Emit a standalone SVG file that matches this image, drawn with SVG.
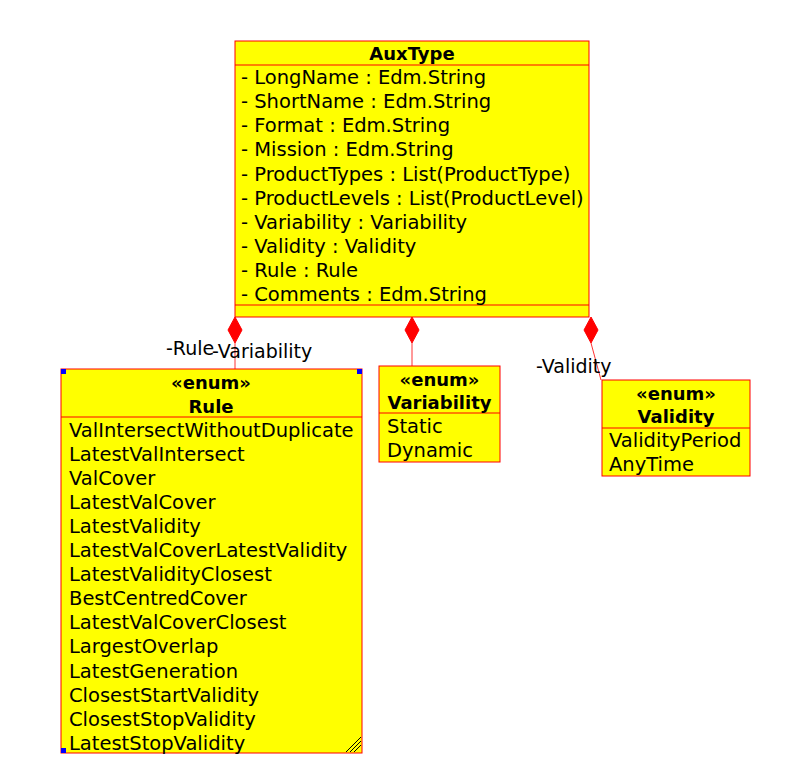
<svg xmlns="http://www.w3.org/2000/svg" width="801" height="777" viewBox="0 0 801 777">
<style>
.box{fill:#ffff00;stroke:#ff0000;stroke-width:1}
.sep{stroke:#ff0000;stroke-width:1}
.t{font-family:"DejaVu Sans",sans-serif;font-size:19.5px;fill:#000}
.b{font-weight:bold;text-anchor:middle;font-size:18px}
.conn{stroke:#ff3333;stroke-width:1;fill:none}
.dia{fill:#ff0000;stroke:#ff0000}
.lbl{font-family:"DejaVu Sans",sans-serif;font-size:19px;fill:#000}
.h{fill:#0000ff}
</style>
<rect width="801" height="777" fill="#fff"/>
<g id="connectors">
<path class="conn" d="M235,343 V369"/>
<path class="conn" d="M412,343 V366"/>
<path class="conn" d="M591,343 L601,380"/>
<path class="dia" d="M235,317 L242,330 L235,343 L228,330 Z"/>
<path class="dia" d="M412,317 L419,330 L412,343 L405,330 Z"/>
<path class="dia" d="M591,317 L598,330 L591,343 L584,330 Z"/>
<text class="lbl" x="166" y="355">-Rule</text>
<text class="lbl" x="212" y="358">-Variability</text>
<text class="lbl" x="536" y="373">-Validity</text>
</g>
<g id="AuxType">
<rect class="box" x="235" y="41" width="354" height="276"/>
<line class="sep" x1="235" y1="65" x2="589" y2="65"/>
<line class="sep" x1="235" y1="305" x2="589" y2="305"/>
<text class="t b" x="412" y="60">AuxType</text>
<text class="t" x="241" y="84">- LongName : Edm.String</text>
<text class="t" x="241" y="108">- ShortName : Edm.String</text>
<text class="t" x="241" y="132">- Format : Edm.String</text>
<text class="t" x="241" y="156">- Mission : Edm.String</text>
<text class="t" x="241" y="181">- ProductTypes : List(ProductType)</text>
<text class="t" x="241" y="205">- ProductLevels : List(ProductLevel)</text>
<text class="t" x="241" y="229">- Variability : Variability</text>
<text class="t" x="241" y="253">- Validity : Validity</text>
<text class="t" x="241" y="277">- Rule : Rule</text>
<text class="t" x="241" y="301">- Comments : Edm.String</text>
</g>
<g id="Rule">
<rect class="box" x="61" y="369" width="301" height="384"/>
<line class="sep" x1="61" y1="417" x2="362" y2="417"/>
<text class="t b" x="211" y="389">«enum»</text>
<text class="t b" x="211" y="413">Rule</text>
<text class="t" x="69" y="437">ValIntersectWithoutDuplicate</text>
<text class="t" x="69" y="461">LatestValIntersect</text>
<text class="t" x="69" y="485">ValCover</text>
<text class="t" x="69" y="509">LatestValCover</text>
<text class="t" x="69" y="533">LatestValidity</text>
<text class="t" x="69" y="557">LatestValCoverLatestValidity</text>
<text class="t" x="69" y="581">LatestValidityClosest</text>
<text class="t" x="69" y="605">BestCentredCover</text>
<text class="t" x="69" y="629">LatestValCoverClosest</text>
<text class="t" x="69" y="653">LargestOverlap</text>
<text class="t" x="69" y="678">LatestGeneration</text>
<text class="t" x="69" y="702">ClosestStartValidity</text>
<text class="t" x="69" y="726">ClosestStopValidity</text>
<text class="t" x="69" y="750">LatestStopValidity</text>
<rect class="h" x="61" y="369" width="5" height="5"/>
<rect class="h" x="357" y="369" width="5" height="5"/>
<rect class="h" x="61" y="748" width="5" height="5"/>
<path d="M346,752 L361,737 M350,752 L361,741 M354,752 L361,745" stroke="#000" stroke-width="1"/>
</g>
<g id="Variability">
<rect class="box" x="379" y="366" width="121" height="96"/>
<line class="sep" x1="379" y1="413" x2="500" y2="413"/>
<text class="t b" x="439.5" y="386">«enum»</text>
<text class="t b" x="439.5" y="409">Variability</text>
<text class="t" x="387" y="433">Static</text>
<text class="t" x="387" y="457">Dynamic</text>
</g>
<g id="Validity">
<rect class="box" x="602" y="380" width="148" height="96"/>
<line class="sep" x1="602" y1="428" x2="750" y2="428"/>
<text class="t b" x="676" y="400">«enum»</text>
<text class="t b" x="676" y="423">Validity</text>
<text class="t" x="609" y="447">ValidityPeriod</text>
<text class="t" x="609" y="471">AnyTime</text>
</g>
</svg>
